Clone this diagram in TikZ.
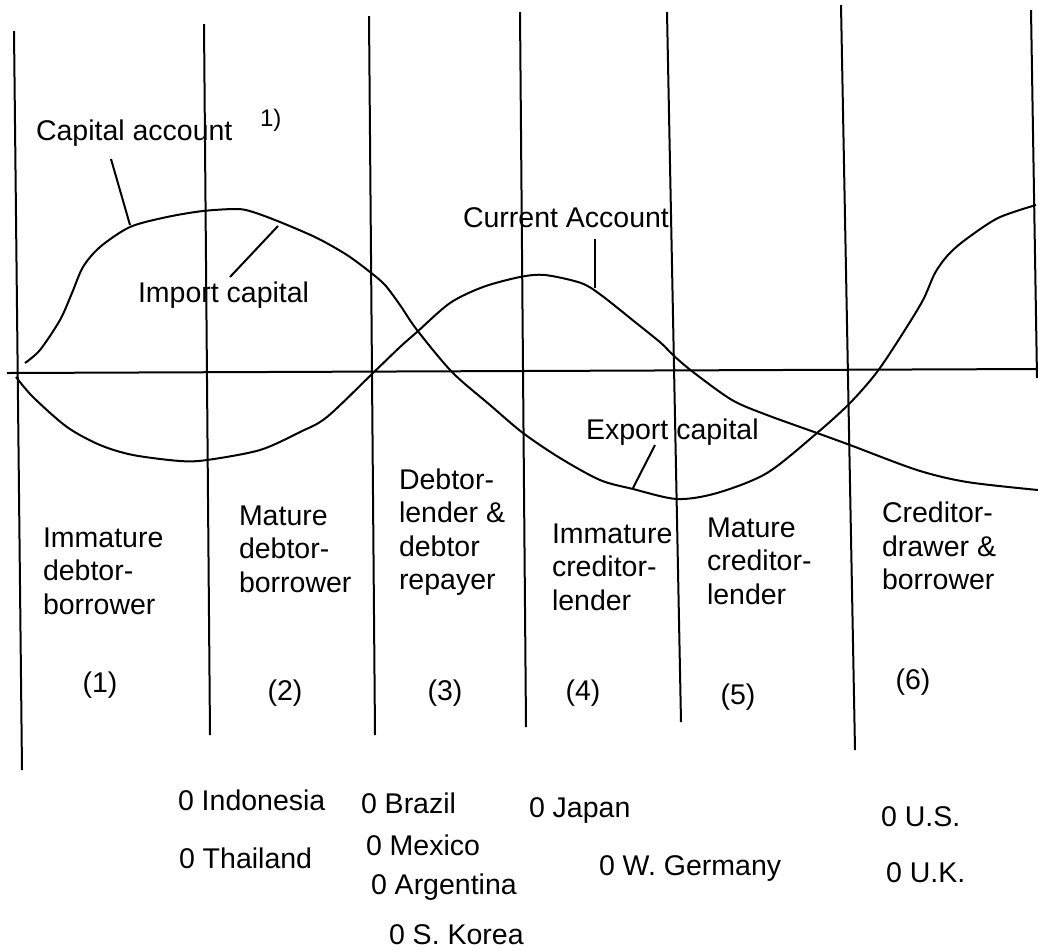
\documentclass[tikz,border=0pt]{standalone}
\usepackage{fontspec}
\setmainfont{Liberation Sans}

\begin{document}
\begin{tikzpicture}[x=.5pt, y=-.5pt, line width=1pt,
		lbl/.style={anchor=west, inner sep=0pt, font=\fontsize{14.25}{16.75}\selectfont},
		stage/.style={lbl, align=left}]
			\useasboundingbox (0,0) rectangle (1038,949);
			% stage borders
			\node[shape=coordinate] (t1) at (  14, 31) {};
			\node[shape=coordinate] (b1) at (  22,770) {};
			\node[shape=coordinate] (t2) at ( 204, 24) {};
			\node[shape=coordinate] (b2) at ( 210,735) {};
			\node[shape=coordinate] (t3) at ( 369, 16) {};
			\node[shape=coordinate] (b3) at ( 375,735) {};
			\node[shape=coordinate] (t4) at ( 520, 12) {};
			\node[shape=coordinate] (b4) at ( 526,727) {};
			\node[shape=coordinate] (t5) at ( 667, 12) {};
			\node[shape=coordinate] (b5) at ( 681,722) {};
			\node[shape=coordinate] (t6) at ( 841,  5) {};
			\node[shape=coordinate] (b6) at ( 855,750) {};
			\node[shape=coordinate] (t7) at (1031, 10) {};
			\node[shape=coordinate] (b7) at (1037,378) {};
			\draw (t1) -- (b1);
			\draw (t2) -- (b2);
			\draw (t3) -- (b3);
			\draw (t4) -- (b4);
			\draw (t5) -- (b5);
			\draw (t6) -- (b6);
			\draw (t7) -- (b7);
			% zero line
			\node[shape=coordinate] (zl) at (   7,373) {};
			\node[shape=coordinate] (zr) at (1038,369) {};
			\draw (zl) -- (zr);
			% capital account
			\draw plot[smooth] coordinates {(25,363) (40,350) (60,320) (72,293) (83,267) (100,247)
				(130,227) (167,217) (203,211) (237,209) (253,212) (280,222) (317,238) (347,255)
				(370,272) (385,285) (400,305) (417,330) (452,372) (490,405) (523,433) (560,458)
				(600,480) (633,489) (677,499) (717,493) (767,473) (817,433) (850,403) (877,372)
				(903,333) (923,300) (935,273) (948,255) (965,240) (998,218) (1036,205)};
			% current account
			\draw plot[smooth] coordinates {(16,377) (33,397) (67,427) (100,445) (133,455)
				(180,461) (207,460) (260,450) (300,432) (327,417) (373,373) (400,347) (417,332)
				(450,303) (483,287) (520,277) (545,275) (581,283) (601,295) (635,322) (661,343)
				(673,355) (693,372) (732,400) (767,415) (817,433) (850,445) (917,470) (967,482)
				(1038,490)};
			% curve labels
			\node[lbl] (capacc) at (35,133) {Capital account};
			\node[lbl, font=\fontsize{12}{14}\selectfont] (note) at (259,120) {1)};
			\node[lbl] (impcap) at (137,295) {Import capital};
			\node[lbl] (curacc) at (462,218) {Current Account};
			\node[lbl] (expcap) at (585,432) {Export capital};
			\node[shape=coordinate] (ca1) at (111,159) {};
			\node[shape=coordinate] (ca2) at (130,225) {};
			\node[shape=coordinate] (ic1) at (230,277) {};
			\node[shape=coordinate] (ic2) at (278,226) {};
			\node[shape=coordinate] (cu1) at (595,239) {};
			\node[shape=coordinate] (cu2) at (595,288) {};
			\node[shape=coordinate] (ec1) at (655,445) {};
			\node[shape=coordinate] (ec2) at (633,488) {};
			\draw (ca1) -- (ca2);
			\draw (ic1) -- (ic2);
			\draw (cu1) -- (cu2);
			\draw (ec1) -- (ec2);
			% stages
			\node[stage] (s1) at ( 42,571) {Immature\\debtor-\\borrower};
			\node[stage] (s2) at (238,549) {Mature\\debtor-\\borrower};
			\node[stage] (s3) at (398,532) {Debtor-\\lender \&\\debtor\\repayer};
			\node[stage] (s4) at (551,567) {Immature\\creditor-\\lender};
			\node[stage] (s5) at (706,561) {Mature\\creditor-\\lender};
			\node[stage] (s6) at (881,546) {Creditor-\\drawer \&\\borrower};
			\node[lbl, anchor=center] (n1) at (100,685) {(1)};
			\node[lbl, anchor=center] (n2) at (285,693) {(2)};
			\node[lbl, anchor=center] (n3) at (445,693) {(3)};
			\node[lbl, anchor=center] (n4) at (583,693) {(4)};
			\node[lbl, anchor=center] (n5) at (738,697) {(5)};
			\node[lbl, anchor=center] (n6) at (913,682) {(6)};
			% countries
			\node[lbl] (indonesia) at (177,800) {0 Indonesia};
			\node[lbl] (thailand)  at (178,858) {0 Thailand};
			\node[lbl] (brazil)    at (360,803) {0 Brazil};
			\node[lbl] (mexico)    at (365,845) {0 Mexico};
			\node[lbl] (argentina) at (370,887) {0 Argentina};
			\node[lbl] (korea)     at (388,935) {0 S. Korea};
			\node[lbl] (japan)     at (528,810) {0 Japan};
			\node[lbl] (germany)   at (598,868) {0 W. Germany};
			\node[lbl] (us)        at (880,817) {0 U.S.};
			\node[lbl] (uk)        at (885,873) {0 U.K.};
		\end{tikzpicture}
\end{document}
